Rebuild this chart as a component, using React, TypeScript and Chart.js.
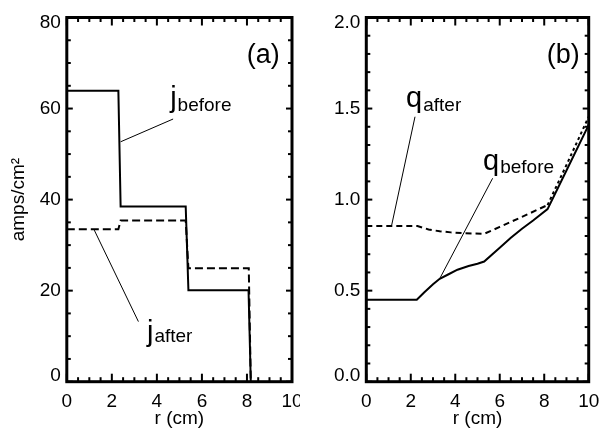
import React, { useEffect, useRef } from "react";
import { Chart, registerables } from "chart.js";

Chart.register(...registerables);

const FONT = "'Liberation Sans', Arial, Helvetica, sans-serif";

// ---------- Panel (a): current density (amps/cm^2) vs r (cm) ----------
const rJBefore = [0, 2.29, 2.39, 5.28, 5.4, 8.07, 8.17];
const jBefore = [63.9, 63.9, 38.5, 38.5, 20.1, 20.1, 0];
const rJAfter = [0, 2.29, 2.39, 5.28, 5.4, 8.08, 8.17];
const jAfter = [33.5, 33.5, 35.4, 35.4, 24.9, 24.9, 0];

// ---------- Panel (b): safety factor q vs r (cm) ----------
const rQBefore = [0, 2.27, 2.6, 3.0, 3.3, 3.7, 4.1, 4.6, 5.0, 5.3, 6.0, 6.5, 7.0, 7.5, 8.15, 9.0, 10];
const qBefore = [0.45, 0.45, 0.49, 0.535, 0.565, 0.59, 0.615, 0.635, 0.648, 0.66, 0.735, 0.79, 0.84, 0.885, 0.948, 1.16, 1.41];
const rQAfter = [0, 2.3, 2.8, 3.3, 3.8, 4.3, 5.3, 6.0, 7.0, 8.15, 9.0, 10];
const qAfter = [0.855, 0.855, 0.836, 0.826, 0.82, 0.816, 0.812, 0.85, 0.905, 0.97, 1.19, 1.455];

// ---------- Axes ----------
const xTicks = [0, 2, 4, 6, 8, 10];
const yTicksA = [0, 20, 40, 60, 80];
const yTicksB = [0, 0.5, 1.0, 1.5, 2.0];
const xMinorStep = 0.5;
const yMinorStepA = 5;
const yMinorStepB = 0.1;

const xTitle = "r (cm)";
const yTitleA = "amps/cm\u00B2";

const pts = (xs: number[], ys: number[]) => xs.map((x, i) => ({ x, y: ys[i] }));

type Ann = { text: string; sub?: string; x: number; y: number; size: number; subSize?: number; subDy?: number };
type Leader = { x1: number; y1: number; x2: number; y2: number };

function makeFramePlugin(p: any) {
  return {
    id: "frame" + p.name,
    afterDraw(chart: any) {
      const { ctx, chartArea } = chart;
      const { left, right, top, bottom } = chartArea;
      const xs = chart.scales.x;
      const ys = chart.scales.y;
      ctx.save();
      ctx.strokeStyle = "#000";
      ctx.fillStyle = "#000";
      ctx.lineCap = "butt";
      const seg = (x1: number, y1: number, x2: number, y2: number) => {
        ctx.beginPath();
        ctx.moveTo(x1, y1);
        ctx.lineTo(x2, y2);
        ctx.stroke();
      };
      ctx.lineWidth = 2;
      const isMajor = (v: number, majors: number[]) => majors.some((m) => Math.abs(m - v) < 1e-6);
      const nx = Math.round((xs.max - xs.min) / xMinorStep);
      for (let i = 0; i <= nx; i++) {
        const v = xs.min + i * xMinorStep;
        const px = xs.getPixelForValue(v);
        const len = isMajor(v, xTicks) ? 8 : 4.5;
        seg(px, bottom, px, bottom - len);
        seg(px, top, px, top + len);
      }
      const ny = Math.round((ys.max - ys.min) / p.yMinor);
      for (let i = 0; i <= ny; i++) {
        const v = ys.min + i * p.yMinor;
        const py = ys.getPixelForValue(v);
        const len = isMajor(v, p.yTicks) ? 6 : 4;
        seg(left, py, left + len, py);
        seg(right, py, right - len, py);
      }
      ctx.lineWidth = 3;
      ctx.strokeRect(left, top, right - left, bottom - top);

      // leader lines
      ctx.lineWidth = 1;
      (p.leaders as Leader[]).forEach((l) => {
        seg(xs.getPixelForValue(l.x1), ys.getPixelForValue(l.y1), xs.getPixelForValue(l.x2), ys.getPixelForValue(l.y2));
      });
      // text annotations
      ctx.textAlign = "left";
      ctx.textBaseline = "alphabetic";
      (p.labels as Ann[]).forEach((a) => {
        const px = xs.getPixelForValue(a.x);
        const py = ys.getPixelForValue(a.y);
        ctx.font = `${a.size}px ${FONT}`;
        ctx.fillText(a.text, px, py);
        if (a.sub) {
          const w = ctx.measureText(a.text).width;
          ctx.font = `${a.subSize}px ${FONT}`;
          ctx.fillText(a.sub, px + w + 1, py + (a.subDy || 0));
        }
      });
      ctx.restore();
    },
  };
}

function makeConfig(p: any): any {
  const tickFont = { family: FONT, size: 19 };
  return {
    type: "line",
    data: { datasets: p.datasets },
    options: {
      animation: false,
      responsive: false,
      maintainAspectRatio: false,
      events: [],
      layout: { padding: { left: 0, right: p.padRight, top: 17.5, bottom: 0 } },
      plugins: {
        legend: { display: false },
        tooltip: { enabled: false },
      },
      scales: {
        x: {
          type: "linear",
          min: 0,
          max: 10,
          afterBuildTicks: (s: any) => {
            s.ticks = xTicks.map((v) => ({ value: v }));
          },
          afterFit: (s: any) => {
            s.height = 430 - 381.7;
            s.paddingLeft = 0;
            s.paddingRight = 0;
          },
          grid: { display: false, drawTicks: false },
          border: { display: false },
          ticks: { padding: 9, color: "#000", font: tickFont, maxRotation: 0, autoSkip: false, callback: (v: number) => String(v) },
          title: { display: true, text: xTitle, color: "#000", font: tickFont, padding: { top: 0, bottom: 0 } },
        },
        y: {
          type: "linear",
          min: p.yTicks[0],
          max: p.yTicks[p.yTicks.length - 1],
          afterBuildTicks: (s: any) => {
            s.ticks = p.yTicks.map((v: number) => ({ value: v }));
          },
          afterFit: (s: any) => {
            s.width = p.yWidth;
            s.paddingTop = 0;
            s.paddingBottom = 0;
          },
          grid: { display: false, drawTicks: false },
          border: { display: false },
          ticks: {
            padding: 6,
            color: "#000",
            autoSkip: false,
            font: (c: any) => {
              const n = p.yTicks.length;
              const idx = c.index;
              if (idx === 0) return { family: FONT, size: 19, lineHeight: "11.5px" };
              if (idx === n - 1) return { family: FONT, size: 19, lineHeight: "11px" };
              return { family: FONT, size: 19 };
            },
            callback: (v: number, idx: number) => {
              const s = p.fmt(v);
              if (idx === 0) return [s, ""];
              if (idx === p.yTicks.length - 1) return ["", s];
              return s;
            },
          },
          title: p.yTitle
            ? { display: true, text: p.yTitle, color: "#000", font: tickFont, padding: { top: 7, bottom: 0 } }
            : { display: false },
        },
      },
    },
    plugins: [makeFramePlugin(p)],
  };
}

const lineStyle = { borderColor: "#000", borderWidth: 2, pointRadius: 0, fill: false, tension: 0, borderJoinStyle: "miter" };

function Panel(props: { cfg: any; left: number; width: number }) {
  const ref = useRef<HTMLCanvasElement>(null);
  useEffect(() => {
    const chart = new Chart(ref.current as HTMLCanvasElement, props.cfg);
    return () => chart.destroy();
  }, []);
  return (
    <canvas
      ref={ref}
      width={props.width}
      height={430}
      style={{ position: "absolute", left: props.left, top: 0, width: props.width, height: 430 }}
    />
  );
}

export default function App() {
  const cfgA = makeConfig({
    name: "A",
    datasets: [
      { ...lineStyle, data: pts(rJBefore, jBefore) },
      { ...lineStyle, data: pts(rJAfter, jAfter), borderDash: [8, 4] },
    ],
    yTicks: yTicksA,
    yMinor: yMinorStepA,
    yWidth: 66.8,
    padRight: 8,
    yTitle: yTitleA,
    fmt: (v: number) => String(v),
    labels: [
      { text: "(a)", x: 7.99, y: 70.1, size: 27 },
      { text: "j", sub: "before", x: 4.59, y: 60.3, size: 29, subSize: 19, subDy: 4 },
      { text: "j", sub: "after", x: 3.56, y: 9.0, size: 29, subSize: 19, subDy: 1 },
    ],
    leaders: [
      { x1: 4.72, y1: 57.7, x2: 2.39, y2: 52.7 },
      { x1: 3.18, y1: 13.2, x2: 1.22, y2: 33.3 },
    ],
  });
  const cfgB = makeConfig({
    name: "B",
    datasets: [
      { ...lineStyle, data: pts(rQBefore, qBefore) },
      {
        ...lineStyle,
        data: pts(rQAfter, qAfter),
        borderDash: [6, 4],
        segment: { borderDash: (c: any) => (c.p0.parsed.x >= 8.1 ? [3, 3] : [6, 4]) },
      },
    ],
    yTicks: yTicksB,
    yMinor: yMinorStepB,
    yWidth: 66.3,
    padRight: 12.3,
    yTitle: null,
    fmt: (v: number) => v.toFixed(1),
    labels: [
      { text: "(b)", x: 8.11, y: 1.752, size: 27 },
      { text: "q", sub: "after", x: 1.79, y: 1.506, size: 29, subSize: 19, subDy: 4 },
      { text: "q", sub: "before", x: 5.25, y: 1.161, size: 29, subSize: 19, subDy: 3 },
    ],
    leaders: [
      { x1: 2.19, y1: 1.455, x2: 1.14, y2: 0.859 },
      { x1: 5.68, y1: 1.117, x2: 3.31, y2: 0.568 },
    ],
  });
  return (
    <div style={{ position: "absolute", left: 0, top: 0, width: 601, height: 430, background: "#fff", overflow: "hidden" }}>
      <Panel cfg={cfgA} left={0} width={300} />
      <Panel cfg={cfgB} left={300} width={301} />
    </div>
  );
}
